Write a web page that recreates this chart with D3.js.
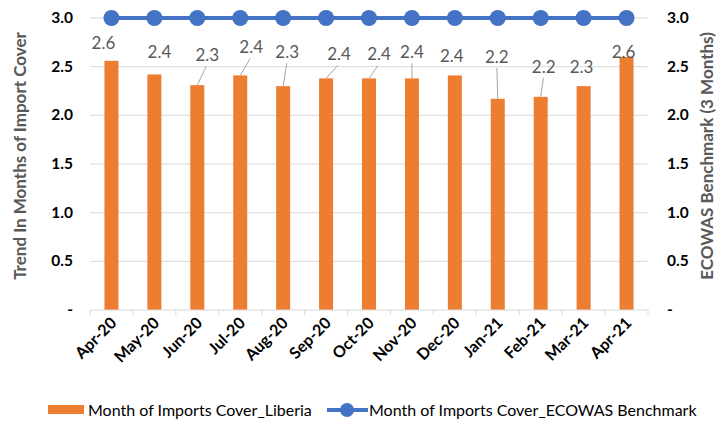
<!DOCTYPE html>
<html>
<head>
<meta charset="utf-8">
<script src="https://cdn.jsdelivr.net/npm/d3@7"></script>
<style>
  body { margin: 0; background: #fff; }
  svg { font-family: Lato, "Open Sans", sans-serif; }
</style>
</head>
<body>
<div id="chart"></div>
<script>
const months = ["Apr-20","May-20","Jun-20","Jul-20","Aug-20","Sep-20","Oct-20","Nov-20","Dec-20","Jan-21","Feb-21","Mar-21","Apr-21"];
const liberia = [2.56, 2.42, 2.31, 2.41, 2.30, 2.38, 2.38, 2.38, 2.41, 2.17, 2.19, 2.30, 2.60];
const benchmark = [3,3,3,3,3,3,3,3,3,3,3,3,3];
const yTicks = [0, 0.5, 1.0, 1.5, 2.0, 2.5, 3.0];

// label nudges (px) from the bar top, and whether a leader line is drawn
const labelShift = [[-8,-18,0],[5,-22,0],[10,-30,1],[11,-28,1],[4,-34,1],[13,-24,1],[10,-24,1],[0,-26,1],[-3,-19,0],[-1,-42,1],[3,-30,1],[-2,-19,0],[-3,-5,0]];

const W = 725, H = 423;
const m = {left: 90, right: 77, top: 18, bottom: 113};

const svg = d3.select("#chart").append("svg")
  .attr("width", W).attr("height", H);

const x = d3.scaleBand().domain(months).range([m.left, W - m.right]);
const y = d3.scaleLinear().domain([0, 3]).range([H - m.bottom, m.top]);

// gridlines
svg.selectAll(".grid").data(yTicks.slice(1)).enter().append("line")
  .attr("x1", m.left).attr("x2", W - m.right)
  .attr("y1", d => y(d)).attr("y2", d => y(d))
  .attr("stroke", "#d9d9d9").attr("stroke-width", 1);

const fmt = d => d === 0 ? "-" : d.toFixed(1);

svg.selectAll(".ytl").data(yTicks).enter().append("text")
  .attr("x", 73).attr("y", d => y(d) + 5)
  .attr("text-anchor", "end")
  .attr("font-size", 15.5).attr("font-weight", "bold").attr("fill", "#000")
  .text(fmt);

svg.selectAll(".ytr").data(yTicks).enter().append("text")
  .attr("x", 667).attr("y", d => y(d) + 5)
  .attr("text-anchor", "start")
  .attr("font-size", 15.5).attr("font-weight", "bold").attr("fill", "#000")
  .text(fmt);

// bars
const bw = 14;
svg.selectAll(".bar").data(liberia).enter().append("rect")
  .attr("x", (d, i) => x(months[i]) + x.bandwidth() / 2 - bw / 2)
  .attr("y", d => y(d))
  .attr("width", bw)
  .attr("height", d => y(0) - y(d))
  .attr("fill", "#ed7d31");

// x axis line and ticks
svg.append("line")
  .attr("x1", m.left).attr("x2", W - m.right)
  .attr("y1", y(0)).attr("y2", y(0))
  .attr("stroke", "#d9d9d9").attr("stroke-width", 1);
const bounds = months.map(d => x(d)).concat([W - m.right]);
svg.selectAll(".xt").data(bounds).enter().append("line")
  .attr("x1", d => d).attr("x2", d => d)
  .attr("y1", y(0)).attr("y2", y(0) + 5)
  .attr("stroke", "#d9d9d9");

svg.selectAll(".xl").data(months).enter().append("text")
  .attr("transform", d => `translate(${x(d) + x.bandwidth() / 2 + 6},${y(0) + 14}) rotate(-45)`)
  .attr("text-anchor", "end")
  .attr("font-size", 16).attr("font-weight", "bold").attr("fill", "#000")
  .text(d => d);

// data labels with leader lines
liberia.forEach((v, i) => {
  const cx = x(months[i]) + x.bandwidth() / 2, top = y(v);
  const [dx, dy, lead] = labelShift[i];
  if (lead) {
    svg.append("line")
      .attr("x1", cx).attr("y1", top)
      .attr("x2", cx + dx * 0.9).attr("y2", top + dy + 11)
      .attr("stroke", "#a6a6a6").attr("stroke-width", 1);
  }
  svg.append("text")
    .attr("x", cx + dx).attr("y", top + dy + 6)
    .attr("text-anchor", "middle")
    .attr("font-size", 17).attr("fill", "#595959")
    .text(v.toFixed(1));
});

// benchmark line
const line = d3.line()
  .x((d, i) => x(months[i]) + x.bandwidth() / 2)
  .y(d => y(d));
svg.append("path").datum(benchmark)
  .attr("d", line).attr("fill", "none")
  .attr("stroke", "#4472c4").attr("stroke-width", 4);
svg.selectAll(".pt").data(benchmark).enter().append("circle")
  .attr("cx", (d, i) => x(months[i]) + x.bandwidth() / 2)
  .attr("cy", d => y(d))
  .attr("r", 8)
  .attr("fill", "#4472c4");

// axis titles
svg.append("text")
  .attr("transform", `translate(26,156) rotate(-90)`)
  .attr("text-anchor", "middle")
  .attr("font-size", 17).attr("font-weight", "bold").attr("fill", "#595959")
  .text("Trend In Months of Import Cover");
svg.append("text")
  .attr("transform", `translate(713,156) rotate(-90)`)
  .attr("text-anchor", "middle")
  .attr("font-size", 17).attr("font-weight", "bold").attr("fill", "#595959")
  .text("ECOWAS Benchmark (3 Months)");

// legend
const ly = 410;
svg.append("rect").attr("x", 48).attr("y", ly - 5).attr("width", 36).attr("height", 9).attr("fill", "#ed7d31");
svg.append("text").attr("x", 88).attr("y", ly + 6)
  .attr("font-size", 16).attr("fill", "#000")
  .text("Month of Imports Cover_Liberia");
svg.append("line").attr("x1", 327).attr("x2", 368).attr("y1", ly).attr("y2", ly)
  .attr("stroke", "#4472c4").attr("stroke-width", 4);
svg.append("circle").attr("cx", 347).attr("cy", ly).attr("r", 7).attr("fill", "#4472c4");
svg.append("text").attr("x", 369).attr("y", ly + 6)
  .attr("font-size", 16).attr("fill", "#000")
  .text("Month of Imports Cover_ECOWAS Benchmark");
</script>
</body>
</html>
